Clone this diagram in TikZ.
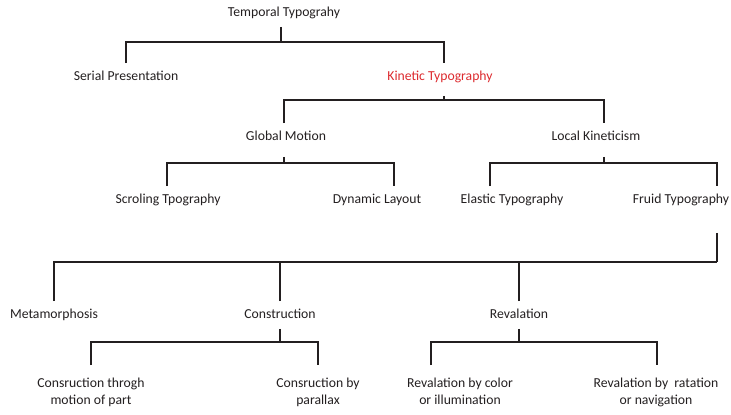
\documentclass[tikz,border=0pt]{standalone}
\usepackage{fontspec}
\setmainfont{Carlito}

\definecolor{ink}{HTML}{231F20}
\definecolor{accent}{HTML}{DC2A2E}

\tikzset{
  base/.style={font=\fontsize{13.7}{17}\selectfont, text=ink, inner xsep=0pt},
  lbl/.style={base, text height=9pt, text depth=2.5pt, inner ysep=8pt},
  leaf/.style={base, align=center, anchor=north, inner ysep=13pt},
  link/.style={draw=ink, line width=1.2pt},
}

\begin{document}
\begin{tikzpicture}[x=1pt,y=-1pt]

\def\width{731}
\def\height{415}

\path [use as bounding box] (0,0) rectangle (\width,\height);

% ROOT
\node [lbl] (temporal) at (284,13) {Temporal Typograhy};

% SECOND ROW
\node [lbl] (serial) at (126,77) {Serial Presentation};
\node [lbl, text=accent] (kinetic) at (440,77) {Kinetic Typography};

% THIRD ROW
\node [lbl] (global) at (286,137) {Global Motion};
\node [lbl] (local) at (596,137) {Local Kineticism};

% FOURTH ROW
\node [lbl] (scroll) at (168,200) {Scroling Tpography};
\node [lbl] (dynamic) at (377,200) {Dynamic Layout};
\node [lbl] (elastic) at (512,200) {Elastic Typography};
\node [lbl] (fruid) at (681,200) {Fruid Typography};

% FIFTH ROW
\node [lbl] (meta) at (54,315) {Metamorphosis};
\node [lbl] (construct) at (280,315) {Construction};
\node [lbl] (reval) at (519,315) {Revalation};

% LEAVES
\node [leaf] (cmotion) at (91,365) {Consruction throgh\\motion of part};
\node [leaf] (cparallax) at (318,365) {Consruction by\\parallax};
\node [leaf] (rcolor) at (460,365) {Revalation by color\\or illumination};
\node [leaf] (rnav) at (656,365) {Revalation by\ \ ratation\\or navigation};

% BARS
\coordinate (bar-temporal) at (281,42);
\coordinate (bar-kinetic) at (444,100);
\coordinate (bar-global) at (284,163);
\coordinate (bar-local) at (604,163);
\coordinate (bar-fruid) at (717,262);
\coordinate (bar-construct) at (280,342);
\coordinate (bar-reval) at (519,342);

% LINKS
\draw [link] ([xshift=-3pt]temporal.south) -- (bar-temporal);
\draw [link] (serial.north) |- (bar-temporal) -| ([xshift=4pt]kinetic.north);

\draw [link] ([xshift=4pt,yshift=-5pt]kinetic.south) -- (bar-kinetic);
\draw [link] ([xshift=-2pt]global.north) |- (bar-kinetic) -| ([xshift=8pt]local.north);

\draw [link] ([xshift=-2pt,yshift=-6pt]global.south) -- (bar-global);
\draw [link] ([xshift=-1pt]scroll.north) |- (bar-global) -| ([xshift=17pt]dynamic.north);

\draw [link] ([xshift=8pt,yshift=-6pt]local.south) -- (bar-local);
\draw [link] ([xshift=-22pt]elastic.north) |- (bar-local) -| ([xshift=36pt]fruid.north);

\draw [link] ([xshift=36pt,yshift=-19pt]fruid.south) -- (bar-fruid);
\draw [link] (meta.north) |- (bar-fruid);
\draw [link] (construct.north) -- (construct.north |- bar-fruid);
\draw [link] (reval.north) -- (reval.north |- bar-fruid);

\draw [link] (construct.south) -- (bar-construct);
\draw [link] (cmotion.north) |- (bar-construct) -| (cparallax.north);

\draw [link] (reval.south) -- (bar-reval);
\draw [link] ([xshift=-29pt]rcolor.north) |- (bar-reval) -| ([xshift=1pt]rnav.north);

\end{tikzpicture}
\end{document}
